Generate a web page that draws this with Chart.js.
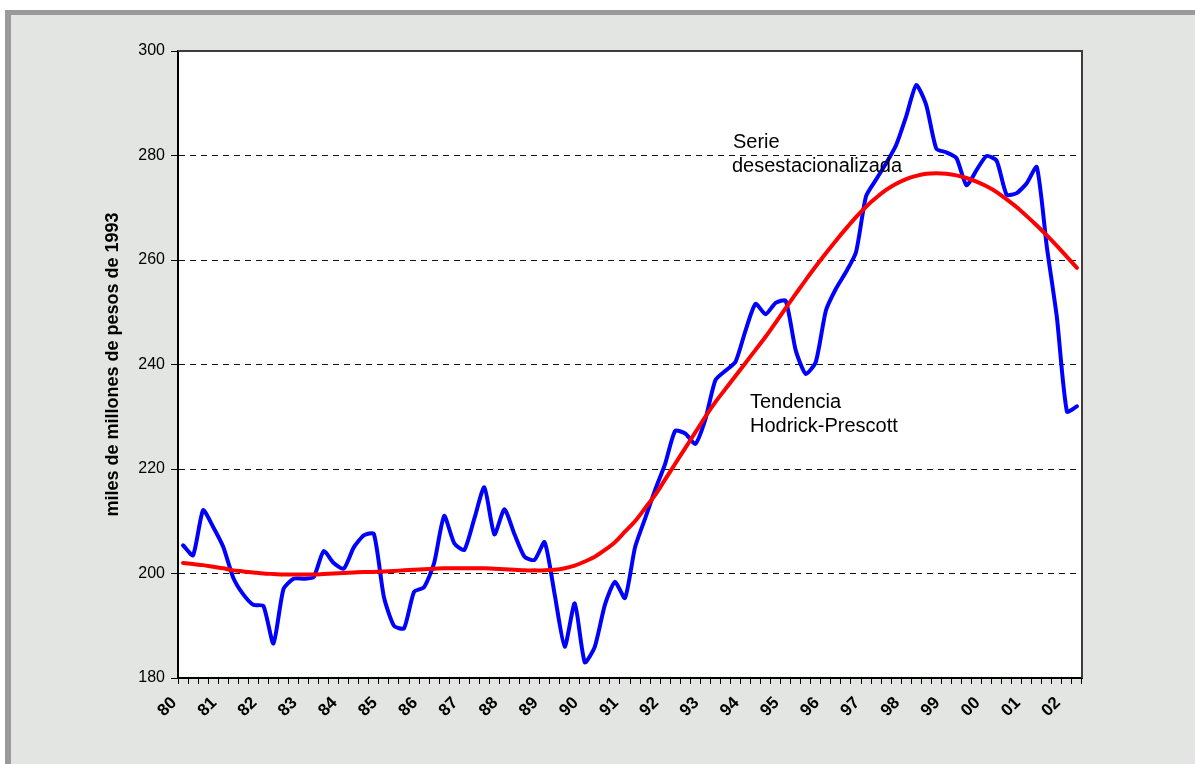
<!DOCTYPE html>
<html>
<head>
<meta charset="utf-8">
<script src="https://cdn.jsdelivr.net/npm/chart.js@4/dist/chart.umd.min.js"></script>
<style>
  html, body { margin: 0; padding: 0; background: #ffffff; overflow: hidden; }
  #frame {
    position: absolute; left: 5px; top: 10px; width: 1190px; height: 754px;
    box-sizing: border-box; background: #e2e5e2;
    border-top: 5px solid #9a9a9a; border-left: 6px solid #9a9a9a;
  }
  #pib { position: absolute; left: 0; top: 0; }
</style>
</head>
<body>
<div id="frame"></div>
<canvas id="pib" width="1195" height="764"></canvas>
<script>
// años (etiquetas del eje x), una por cada primer trimestre
const years = ['80', '81', '82', '83', '84', '85', '86', '87', '88', '89',
  '90', '91', '92', '93', '94', '95', '96', '97', '98', '99', '00', '01', '02'];

// serie desestacionalizada, trimestral 1980.I - 2002.II
const serie = [
  205.4, 203.5, 212.1, 208.9, 205.1, 199.2, 196.0, 194.0, 193.8, 186.6,
  197.0, 199.0, 199.0, 199.3, 204.3, 202.0, 200.9, 205.0, 207.3, 207.6,
  195.5, 190.0, 189.5, 196.5, 197.4, 202.0, 211.0, 205.8, 204.5, 210.5,
  216.5, 207.5, 212.3, 207.5, 203.2, 202.6, 206.0, 196.0, 186.0, 194.3,
  183.0, 186.0, 194.0, 198.4, 195.3, 205.0, 210.5, 216.0, 221.0, 227.3,
  226.8, 224.8, 229.5, 237.0, 238.8, 240.5, 246.5, 251.6, 249.6, 251.8,
  252.2, 242.7, 238.2, 240.5, 250.3, 254.5, 257.7, 261.5, 272.2, 275.4,
  278.5, 282.0, 287.5, 293.5, 289.6, 281.3, 280.6, 279.5, 274.3, 277.2,
  279.9, 279.0, 272.5, 272.8, 274.7, 277.8, 262.5, 249.0, 231.0, 232.0
];

// tendencia Hodrick-Prescott
const tendencia = [
  202.0, 201.8, 201.6, 201.3, 201.0, 200.6, 200.4, 200.2, 200.0, 199.9,
  199.8, 199.8, 199.8, 199.8, 199.9, 200.0, 200.1, 200.2, 200.3, 200.3,
  200.4, 200.5, 200.6, 200.7, 200.8, 200.9, 201.0, 201.0, 201.0, 201.0,
  201.0, 200.9, 200.8, 200.7, 200.6, 200.6, 200.6, 200.7, 201.0, 201.5,
  202.3, 203.2, 204.5, 206.0, 208.0, 210.0, 212.5, 215.0, 218.0, 221.0,
  224.0, 227.0, 230.0, 232.8, 235.3, 237.8, 240.3, 242.8, 245.3, 248.0,
  250.8, 253.5, 256.2, 258.8, 261.3, 263.7, 266.0, 268.2, 270.2, 271.9,
  273.4, 274.6, 275.5, 276.1, 276.5, 276.6, 276.5, 276.2, 275.7, 275.0,
  274.1, 273.0, 271.6, 270.1, 268.4, 266.6, 264.7, 262.7, 260.6, 258.5
];

const yTicks = [180, 200, 220, 240, 260, 280, 300];

const quarters = [];
years.forEach(y => { for (let q = 1; q <= 4; q++) quarters.push(y + '.' + q); });
quarters.length = serie.length;

const plotArea = {
  id: 'plotArea',
  beforeDraw(chart) {
    const a = chart.chartArea, c = chart.ctx;
    c.save();
    c.fillStyle = '#ffffff';
    c.fillRect(a.left, a.top, a.right - a.left, a.bottom - a.top);
    c.restore();
  },
  afterDraw(chart) {
    const a = chart.chartArea, c = chart.ctx;
    c.save();
    c.strokeStyle = '#3c3c3c';
    c.lineWidth = 2;
    c.beginPath();
    c.moveTo(a.left, a.top);
    c.lineTo(a.right, a.top);
    c.lineTo(a.right, a.bottom);
    c.stroke();
    // rótulos de las series
    c.fillStyle = '#000';
    c.font = '20px "Liberation Sans", Arial, sans-serif';
    c.textBaseline = 'alphabetic';
    c.fillText('Serie', 733, 148);
    c.fillText('desestacionalizada', 732, 172);
    c.fillText('Tendencia', 750, 408);
    c.fillText('Hodrick-Prescott', 750, 432);
    c.restore();
  }
};

new Chart(document.getElementById('pib'), {
  type: 'line',
  data: {
    labels: quarters,
    datasets: [{
      label: 'Tendencia Hodrick-Prescott',
      data: tendencia,
      borderColor: '#ff0000',
      borderWidth: 4,
      pointRadius: 0,
      tension: 0.3,
      borderCapStyle: 'round',
      borderJoinStyle: 'round',
      order: 0
    }, {
      label: 'Serie desestacionalizada',
      data: serie,
      borderColor: '#0000ff',
      borderWidth: 4,
      pointRadius: 0,
      tension: 0.2,
      borderCapStyle: 'round',
      borderJoinStyle: 'round',
      order: 1
    }]
  },
  options: {
    responsive: false,
    animation: false,
    devicePixelRatio: 1,
    layout: { padding: { left: 98, top: 51, right: 113, bottom: 0 } },
    plugins: { legend: { display: false }, tooltip: { enabled: false } },
    scales: {
      x: {
        offset: true,
        afterFit: s => { s.height = 86; },
        grid: { offset: true, drawOnChartArea: false, tickLength: 6, tickColor: '#000', tickWidth: 1 },
        border: { color: '#000', width: 2 },
        ticks: {
          autoSkip: false,
          maxRotation: 45,
          minRotation: 45,
          padding: 9,
          labelOffset: -9,
          color: '#000',
          font: { family: '"Liberation Sans", Arial, sans-serif', size: 17, weight: 'bold' },
          callback: (v, i) => (i % 4 === 0 ? years[i / 4] : '')
        }
      },
      y: {
        min: 180,
        max: 300,
        afterFit: s => { s.width = 80; },
        afterBuildTicks: s => { s.ticks = yTicks.map(v => ({ value: v })); },
        grid: {
          color: c => (c.tick && (c.tick.value === 180 || c.tick.value === 300)) ? 'rgba(0,0,0,0)' : '#111',
          lineWidth: 1,
          tickLength: 7,
          tickColor: '#000',
          tickBorderDash: []
        },
        border: { color: '#000', width: 2, dash: [6, 5] },
        ticks: {
          padding: 6,
          color: '#000',
          font: { family: '"Liberation Sans", Arial, sans-serif', size: 16 }
        },
        title: {
          display: true,
          text: 'miles de millones de pesos de 1993',
          color: '#000',
          font: { family: '"Liberation Sans", Arial, sans-serif', size: 18, weight: 'bold' }
        }
      }
    }
  },
  plugins: [plotArea]
});
</script>
</body>
</html>
